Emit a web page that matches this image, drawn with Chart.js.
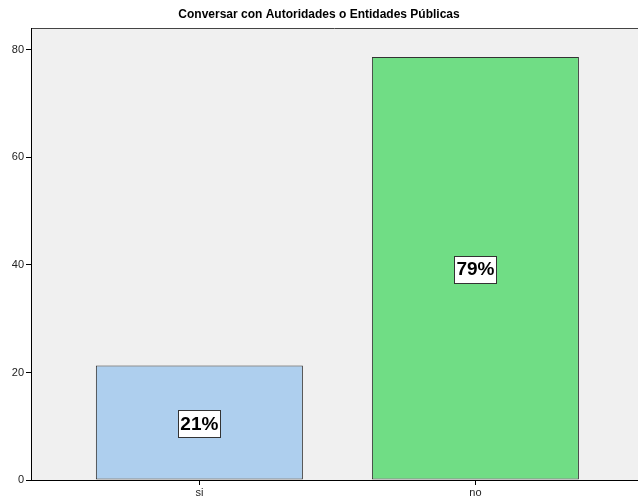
<!DOCTYPE html>
<html>
<head>
<meta charset="utf-8">
<script src="https://cdn.jsdelivr.net/npm/chart.js@4/dist/chart.umd.min.js"></script>
<style>
  html, body { margin: 0; padding: 0; background: #ffffff; }
  #wrap { width: 638px; height: 502px; }
</style>
</head>
<body>
<div id="wrap"><canvas id="c" width="638" height="502"></canvas></div>
<script>
const titleText = 'Conversar con Autoridades o Entidades Públicas';
const categories = ['si', 'no'];
const values = [21.3, 78.7];
const pctLabels = ['21%', '79%'];
const barColors = ['#AECFEE', '#70DD85'];
const yTicks = [0, 20, 40, 60, 80];

const bgPlugin = {
  id: 'bgPlugin',
  beforeDraw(chart) {
    const { ctx, chartArea: a } = chart;
    ctx.save();
    ctx.fillStyle = '#F0F0F0';
    ctx.fillRect(a.left, a.top, a.right - a.left, a.bottom - a.top);
    ctx.strokeStyle = '#444444';
    ctx.lineWidth = 1;
    ctx.beginPath();
    ctx.moveTo(a.left, Math.round(a.top) + 0.5);
    ctx.lineTo(a.right, Math.round(a.top) + 0.5);
    ctx.stroke();
    ctx.restore();
  }
};

const labelPlugin = {
  id: 'labelPlugin',
  afterDatasetsDraw(chart) {
    const { ctx } = chart;
    const meta = chart.getDatasetMeta(0);
    ctx.save();
    ctx.font = 'bold 19px "Liberation Sans", Arial, sans-serif';
    ctx.textAlign = 'center';
    ctx.textBaseline = 'middle';
    meta.data.forEach((bar, i) => {
      const txt = pctLabels[i];
      const cx = bar.x;
      const cy = (bar.y + bar.base) / 2 + 1;
      const w = Math.round(ctx.measureText(txt).width + 4);
      const h = 27;
      const x0 = Math.round(cx - w / 2) + 0.5;
      const y0 = Math.round(cy - h / 2) + 0.5;
      ctx.fillStyle = '#ffffff';
      ctx.fillRect(x0, y0, w, h);
      ctx.strokeStyle = '#333333';
      ctx.lineWidth = 1;
      ctx.strokeRect(x0, y0, w, h);
      ctx.fillStyle = '#000000';
      ctx.fillText(txt, cx, cy + 1);
    });
    ctx.restore();
  }
};

new Chart(document.getElementById('c'), {
  type: 'bar',
  data: {
    datasets: [{
      data: categories.map((c, i) => ({ x: i, y: values[i] })),
      backgroundColor: barColors,
      borderColor: '#333333',
      borderWidth: 1,
      borderSkipped: false,
      categoryPercentage: 1,
      barPercentage: 0.75
    }]
  },
  options: {
    responsive: false,
    animation: false,
    devicePixelRatio: 1,
    layout: { padding: { left: 0, right: 0, top: 0, bottom: 0 } },
    plugins: {
      legend: { display: false },
      tooltip: { enabled: false },
      title: {
        display: true,
        text: titleText,
        color: '#000000',
        font: { family: '"Liberation Sans", Arial, sans-serif', size: 12, weight: 'bold' },
        padding: { top: 7, bottom: 7 }
      }
    },
    scales: {
      x: {
        type: 'linear',
        offset: false,
        min: -0.61,
        max: 1.589,
        afterBuildTicks(scale) { scale.ticks = categories.map((c, i) => ({ value: i })); },
        afterFit(scale) { scale.height = 22; },
        ticks: {
          autoSkip: false,
          maxRotation: 0,
          padding: 1,
          color: '#222222',
          font: { family: '"Liberation Sans", Arial, sans-serif', size: 11 },
          callback: (v) => categories[v]
        },
        grid: { offset: false, drawOnChartArea: false, drawTicks: true, tickLength: 5, tickColor: '#000000' },
        border: { display: true, color: '#000000', width: 1 }
      },
      y: {
        min: 0,
        max: 84,
        afterBuildTicks(scale) { scale.ticks = yTicks.map(v => ({ value: v })); },
        afterFit(scale) { scale.width = 31; },
        ticks: {
          padding: 2,
          color: '#222222',
          font: { family: '"Liberation Sans", Arial, sans-serif', size: 11 }
        },
        grid: { drawOnChartArea: false, drawTicks: true, tickLength: 5, tickColor: '#000000' },
        border: { display: true, color: '#000000', width: 1 }
      }
    }
  },
  plugins: [bgPlugin, labelPlugin]
});
</script>
</body>
</html>
